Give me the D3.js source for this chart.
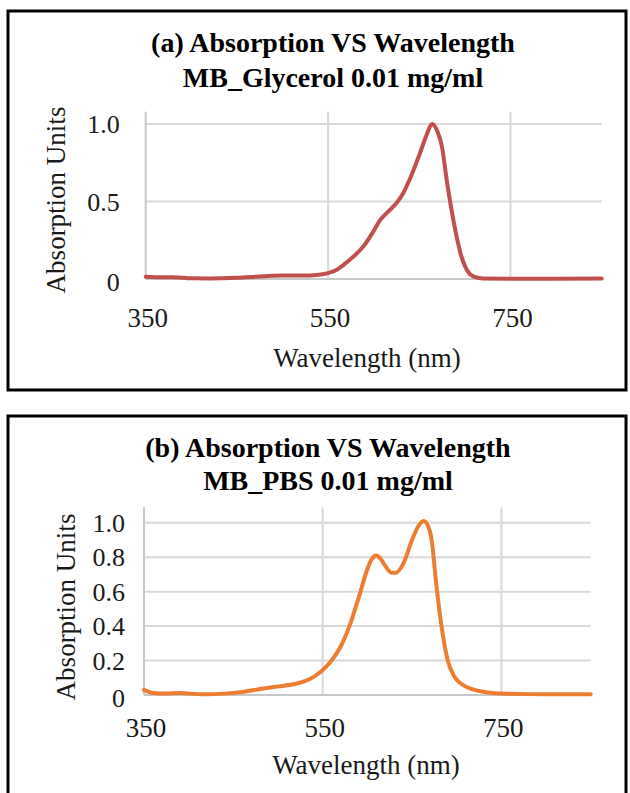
<!DOCTYPE html>
<html>
<head>
<meta charset="utf-8">
<script src="https://cdn.jsdelivr.net/npm/d3@7"></script>
<style>
  html, body { margin: 0; padding: 0; background: #fff; }
  svg { display: block; }
</style>
</head>
<body>
<div id="chart"></div>
<script>
// absorption spectra, two stacked panels

// wavelength (nm) / absorption
const glycerolWl = [350, 360, 380, 400, 420, 450, 480, 500, 520, 540, 550, 560, 575, 590, 600, 607, 615, 625, 632, 640, 650, 658, 664, 670, 675, 680, 688, 695, 702, 710, 720, 750, 800, 850];
const glycerolAbs = [0.015, 0.012, 0.012, 0.005, 0.004, 0.008, 0.018, 0.022, 0.022, 0.028, 0.038, 0.062, 0.13, 0.22, 0.31, 0.38, 0.43, 0.49, 0.55, 0.65, 0.80, 0.93, 1.0, 0.95, 0.85, 0.64, 0.36, 0.17, 0.06, 0.015, 0.003, 0.002, 0.002, 0.003];

const pbsWl = [350, 360, 375, 390, 400, 420, 440, 460, 480, 500, 520, 530, 540, 550, 560, 570, 580, 590, 600, 605, 610, 615, 620, 627, 632, 640, 650, 657, 663, 668, 672, 677, 683, 690, 697, 705, 718, 735, 750, 800, 850];
const pbsAbs = [0.03, 0.012, 0.008, 0.012, 0.008, 0.004, 0.008, 0.018, 0.035, 0.05, 0.065, 0.08, 0.105, 0.145, 0.20, 0.28, 0.40, 0.56, 0.73, 0.79, 0.81, 0.79, 0.75, 0.71, 0.71, 0.76, 0.90, 0.98, 1.01, 0.98, 0.90, 0.65, 0.40, 0.20, 0.11, 0.065, 0.033, 0.015, 0.008, 0.004, 0.004];

const xTicks = [350, 550, 750];
const yTicksA = [0, 0.5, 1.0];
const yTicksB = [0, 0.2, 0.4, 0.6, 0.8, 1.0];

const titlesA = ['(a) Absorption VS Wavelength', 'MB_Glycerol 0.01 mg/ml'];
const titlesB = ['(b) Absorption VS Wavelength', 'MB_PBS 0.01 mg/ml'];

const W = 630, H = 793;
const FONT = "'Liberation Serif', 'Times New Roman', serif";

const svg = d3.select('#chart').append('svg')
  .attr('width', W)
  .attr('height', H);

function fmtY(v) {
  return v === 0 ? '0' : d3.format('.1f')(v);
}

function drawPanel(cfg) {
  const g = svg.append('g');

  // frame
  g.append('rect')
    .attr('x', cfg.box[0]).attr('y', cfg.box[1])
    .attr('width', cfg.box[2] - cfg.box[0])
    .attr('height', cfg.box[3] - cfg.box[1])
    .attr('fill', 'none')
    .attr('stroke', '#000')
    .attr('stroke-width', 3);

  const x = d3.scaleLinear().domain([350, 850]).range([cfg.left, cfg.right]);
  const y = d3.scaleLinear().domain([0, cfg.yMax]).range([cfg.bottom, cfg.top]);

  // gridlines
  g.append('g').selectAll('line.h')
    .data(cfg.yTicks.filter(d => d > 0))
    .enter().append('line')
    .attr('x1', cfg.left).attr('x2', cfg.right)
    .attr('y1', d => y(d)).attr('y2', d => y(d))
    .attr('stroke', '#d9d9d9').attr('stroke-width', 2);

  g.append('g').selectAll('line.v')
    .data(xTicks.filter(d => d > 350))
    .enter().append('line')
    .attr('x1', d => x(d)).attr('x2', d => x(d))
    .attr('y1', cfg.top).attr('y2', cfg.bottom)
    .attr('stroke', '#d9d9d9').attr('stroke-width', 2);

  // axis lines
  g.append('line')
    .attr('x1', cfg.left).attr('x2', cfg.left)
    .attr('y1', cfg.top).attr('y2', cfg.bottom)
    .attr('stroke', '#c8c8c8').attr('stroke-width', 2);
  g.append('line')
    .attr('x1', cfg.left).attr('x2', cfg.right)
    .attr('y1', cfg.bottom).attr('y2', cfg.bottom)
    .attr('stroke', '#c8c8c8').attr('stroke-width', 2);

  // tick labels
  g.append('g').selectAll('text')
    .data(cfg.yTicks)
    .enter().append('text')
    .attr('x', cfg.left - cfg.yLabGap)
    .attr('y', d => y(d) + (d === 0 ? 3 : 0))
    .attr('dy', '0.35em')
    .attr('text-anchor', 'end')
    .style('font-family', FONT)
    .style('font-size', '26px')
    .style('fill', '#1a1a1a')
    .text(fmtY);

  g.append('g').selectAll('text')
    .data(xTicks)
    .enter().append('text')
    .attr('x', d => x(d) + 2)
    .attr('y', cfg.bottom + cfg.xLabGap)
    .attr('dy', '0.35em')
    .attr('text-anchor', 'middle')
    .style('font-family', FONT)
    .style('font-size', '27px')
    .style('fill', '#1a1a1a')
    .text(d => d);

  // axis titles
  g.append('text')
    .attr('x', cfg.xTitle[0]).attr('y', cfg.xTitle[1])
    .attr('dy', '0.35em')
    .attr('text-anchor', 'middle')
    .style('font-family', FONT)
    .style('font-size', '27px')
    .style('fill', '#1a1a1a')
    .text('Wavelength (nm)');

  g.append('text')
    .attr('transform', `translate(${cfg.yTitle[0]},${cfg.yTitle[1]}) rotate(-90)`)
    .attr('dy', '0.35em')
    .attr('text-anchor', 'middle')
    .style('font-family', FONT)
    .style('font-size', '27px')
    .style('fill', '#1a1a1a')
    .text('Absorption Units');

  // chart title, two lines
  g.append('g').selectAll('text')
    .data(cfg.titles)
    .enter().append('text')
    .attr('x', cfg.titleX)
    .attr('y', (d, i) => cfg.titleY[i])
    .attr('dy', '0.35em')
    .attr('text-anchor', 'middle')
    .style('font-family', FONT)
    .style('font-size', '28px')
    .style('font-weight', 'bold')
    .style('fill', '#000')
    .text(d => d);

  // spectrum
  const pts = cfg.wl.map((w, i) => [w, cfg.abs[i]]);
  const line = d3.line()
    .x(d => x(d[0]))
    .y(d => y(d[1]))
    .curve(d3.curveMonotoneX);

  g.append('path')
    .datum(pts)
    .attr('d', line)
    .attr('fill', 'none')
    .attr('stroke', cfg.color)
    .attr('stroke-width', 4)
    .attr('stroke-linejoin', 'round')
    .attr('stroke-linecap', 'round');
}

drawPanel({
  box: [8, 11, 626, 390],
  left: 145.7, right: 601.7, bottom: 279, top: 111.7, yMax: 1.08,
  yTicks: yTicksA, yLabGap: 26, xLabGap: 39,
  xTitle: [367, 358], yTitle: [56, 200],
  titles: titlesA, titleX: 333, titleY: [42, 77],
  wl: glycerolWl, abs: glycerolAbs, color: '#c0504d'
});

drawPanel({
  box: [8, 416, 626, 810],
  left: 144, right: 590.7, bottom: 695, top: 507.3, yMax: 1.09,
  yTicks: yTicksB, yLabGap: 19, xLabGap: 33,
  xTitle: [366, 765], yTitle: [66, 607],
  titles: titlesB, titleX: 328, titleY: [447, 480],
  wl: pbsWl, abs: pbsAbs, color: '#ed7d31'
});
</script>
</body>
</html>
